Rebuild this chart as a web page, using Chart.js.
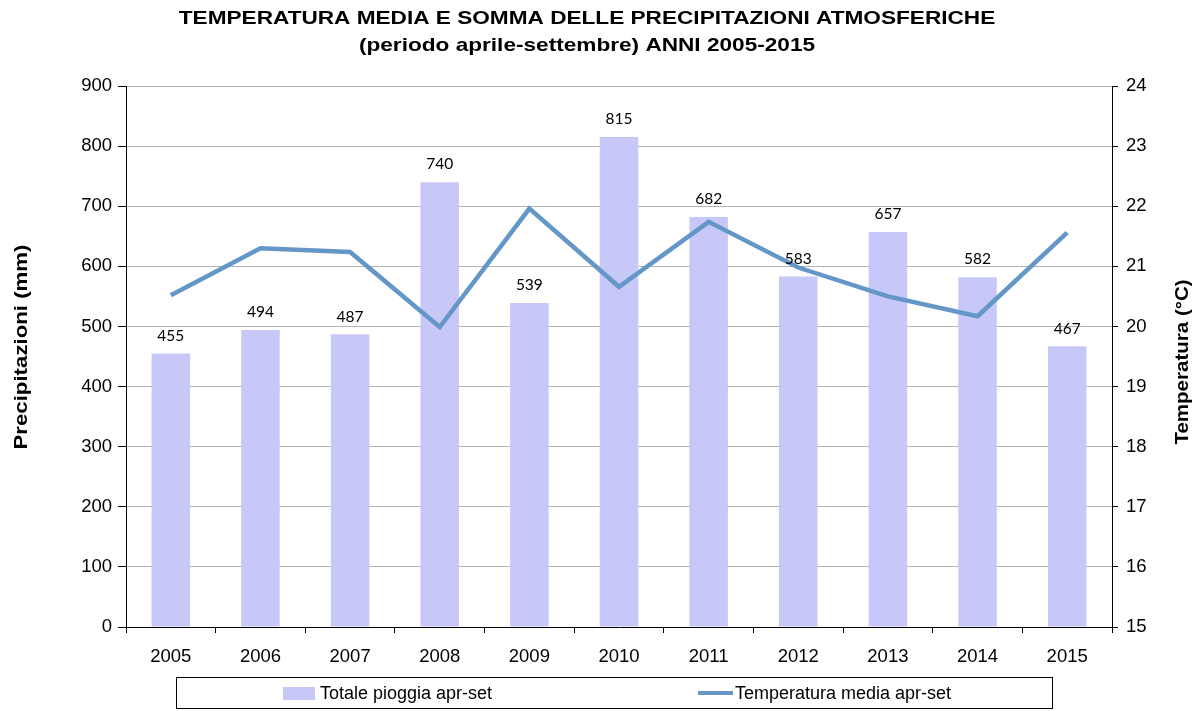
<!DOCTYPE html>
<html><head><meta charset="utf-8">
<script src="https://cdn.jsdelivr.net/npm/chart.js@4"></script>
<style>html,body{margin:0;padding:0;background:#fff}#wrap{width:1204px;height:711px;position:relative}</style>
</head><body><div id="wrap"><canvas id="c" width="1204" height="711"></canvas></div>
<script>
const years = ['2005','2006','2007','2008','2009','2010','2011','2012','2013','2014','2015'];
const rain = [455,494,487,740,539,815,682,583,657,582,467];
const temp = [20.52,21.30,21.24,19.99,21.96,20.66,21.74,20.98,20.50,20.17,21.56];
const titleLines = ['TEMPERATURA MEDIA E SOMMA DELLE PRECIPITAZIONI ATMOSFERICHE','(periodo aprile-settembre) ANNI 2005-2015'];
const leftTitle = 'Precipitazioni (mm)';
const rightTitle = 'Temperatura (°C)';

const BAR = '#c8c8f8', LINE = '#6497c8';
const FONT = '"Liberation Sans", Arial, sans-serif';

const extras = {
  id:'extras',
  afterDatasetsDraw(chart){
    const ctx = chart.ctx;
    const meta = chart.getDatasetMeta(1);
    ctx.save();
    ctx.font = '15.5px Lato, "DejaVu Sans", sans-serif';
    ctx.fillStyle = '#000';
    ctx.textAlign = 'center';
    ctx.textBaseline = 'bottom';
    meta.data.forEach((el,i)=>{ ctx.fillText(String(rain[i]), el.x, el.y - 10); });
    ctx.restore();
  },
  afterDraw(chart){
    const ctx = chart.ctx;
    ctx.save();
    ctx.fillStyle = '#000';
    ctx.textAlign = 'center';
    ctx.textBaseline = 'middle';
    ctx.font = 'bold 19px ' + FONT;
    [[titleLines[0],19],[titleLines[1],46]].forEach(([t,y])=>{
      ctx.save(); ctx.translate(587, y); ctx.scale(1.19,1); ctx.fillText(t,0,0); ctx.restore();
    });
    // axis titles
    ctx.save(); ctx.translate(22, 347); ctx.rotate(-Math.PI/2); ctx.scale(1.17,1); ctx.fillText(leftTitle,0,0); ctx.restore();
    ctx.save(); ctx.translate(1183, 362); ctx.rotate(-Math.PI/2); ctx.scale(1.08,1); ctx.fillText(rightTitle,0,0); ctx.restore();
    // legend
    ctx.strokeStyle = '#000'; ctx.lineWidth = 1;
    ctx.strokeRect(176.5, 677.5, 876, 31);
    ctx.fillStyle = BAR;
    ctx.fillRect(283, 687, 32, 13);
    ctx.fillStyle = '#000';
    ctx.textAlign = 'left';
    ctx.font = '18px ' + FONT;
    ctx.fillText(chart.data.datasets[1].label, 320, 694);
    ctx.strokeStyle = LINE; ctx.lineWidth = 4; ctx.lineCap='butt';
    ctx.beginPath(); ctx.moveTo(698, 693); ctx.lineTo(733, 693); ctx.stroke();
    ctx.fillText(chart.data.datasets[0].label, 735, 694);
    ctx.restore();
  }
};

new Chart(document.getElementById('c'), {
  data:{
    labels: years,
    datasets:[
      {type:'line', label:'Temperatura media apr-set', data:temp, yAxisID:'y1', borderColor:LINE, borderWidth:4.5, pointRadius:0, tension:0, order:0},
      {type:'bar', label:'Totale pioggia apr-set', data:rain, yAxisID:'y', backgroundColor:BAR, categoryPercentage:1, barPercentage:0.43, order:1}
    ]
  },
  options:{
    responsive:false, animation:false,
    layout:{padding:{top:86,bottom:44,left:0,right:0}},
    plugins:{legend:{display:false}, title:{display:false}, tooltip:{enabled:false}},
    scales:{
      x:{
        offset:true,
        grid:{offset:true, drawOnChartArea:false, drawTicks:true, tickLength:6, color:'#000'},
        border:{color:'#000', width:1},
        ticks:{color:'#000', font:{size:18.5, family:FONT}, padding:13},
        afterFit(s){ s.height = 40; }
      },
      y:{
        position:'left', min:0, max:900,
        ticks:{stepSize:100, color:'#000', font:{size:18.5, family:FONT}, padding:6},
        grid:{color:'#b3b3b3', lineWidth:1, tickLength:8, tickColor:'#000'},
        border:{color:'#000', width:1},
        afterFit(s){ s.width = 126; }
      },
      y1:{
        position:'right', min:15, max:24,
        ticks:{stepSize:1, color:'#000', font:{size:18.5, family:FONT}, padding:8},
        grid:{drawOnChartArea:false, tickLength:6, tickColor:'#000'},
        border:{color:'#000', width:1},
        afterFit(s){ s.width = 92; }
      }
    }
  },
  plugins:[extras]
});
</script></body></html>
